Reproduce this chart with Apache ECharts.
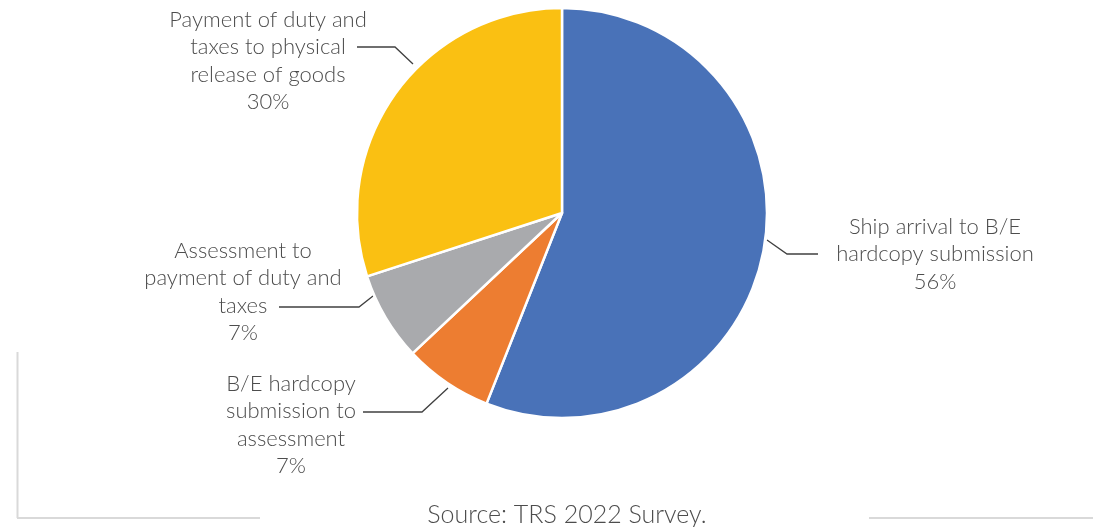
<!DOCTYPE html>
<html>
<head>
<meta charset="utf-8">
<script src="https://cdn.jsdelivr.net/npm/echarts@6/dist/echarts.min.js"></script>
<style>
  html, body { margin: 0; padding: 0; background: #ffffff; }
  #chart { width: 1093px; height: 527px; }
</style>
</head>
<body>
<div id="chart"></div>
<script>
// Stages of the import clearance process and their share of total release time
const stages = [
  'Ship arrival to B/E\nhardcopy submission',
  'B/E hardcopy\nsubmission to\nassessment',
  'Assessment to\npayment of duty and\ntaxes',
  'Payment of duty and\ntaxes to physical\nrelease of goods'
];
const shares = [56, 7, 7, 30];
const sliceColors = ['#4972B8', '#ED7D31', '#A9AAAD', '#FAC012'];
const sourceNote = 'Source: TRS 2022 Survey.';

// Label placement: text centre and the leader line (edge point, elbow, end)
const labelSpots = [
  { x: 935, y: 254, line: [[767, 240], [787, 254], [818, 254]] },
  { x: 291, y: 425, line: [[448, 388], [422, 412], [363, 412]] },
  { x: 243, y: 292, line: [[373, 296], [359, 307], [279, 307]] },
  { x: 268, y: 61,  line: [[413, 64], [395, 47], [357, 47]] }
];

const chart = echarts.init(document.getElementById('chart'), null, { renderer: 'canvas' });
const textColor = '#4d4d4d';
const font = 'Lato, "Noto Sans", sans-serif';
const frameColor = '#d9d9d9';

chart.setOption({
  animation: false,
  backgroundColor: '#ffffff',
  series: [{
    type: 'pie',
    center: [562, 213],
    radius: [0, 205],
    startAngle: 90,
    clockwise: true,
    data: stages.map((name, i) => ({
      name: name,
      value: shares[i],
      itemStyle: { color: sliceColors[i] }
    })),
    itemStyle: { borderColor: '#ffffff', borderWidth: 2.5 },
    label: {
      show: true,
      position: 'outside',
      formatter: p => p.name + '\n' + Math.round(p.percent) + '%',
      color: textColor,
      fontFamily: font,
      fontWeight: 300,
      fontSize: 22,
      lineHeight: 27.5,
      align: 'center'
    },
    labelLine: {
      show: true,
      lineStyle: { color: '#404040', width: 1.3 }
    },
    labelLayout: params => {
      const s = labelSpots[params.dataIndex];
      return {
        x: s.x,
        y: s.y,
        align: 'center',
        verticalAlign: 'middle',
        labelLinePoints: s.line
      };
    },
    emphasis: { disabled: true }
  }],
  graphic: [
    { type: 'line', shape: { x1: 17.5, y1: 352, x2: 17.5, y2: 518 }, style: { stroke: frameColor, lineWidth: 2 } },
    { type: 'line', shape: { x1: 17, y1: 518, x2: 260, y2: 518 }, style: { stroke: frameColor, lineWidth: 2 } },
    { type: 'line', shape: { x1: 869, y1: 518, x2: 1093, y2: 518 }, style: { stroke: frameColor, lineWidth: 2 } },
    {
      type: 'text',
      x: 567, y: 515,
      style: {
        text: sourceNote,
        fill: textColor,
        font: '300 25px Lato, "Noto Sans", sans-serif',
        textAlign: 'center',
        textVerticalAlign: 'middle'
      }
    }
  ]
});
</script>
</body>
</html>
